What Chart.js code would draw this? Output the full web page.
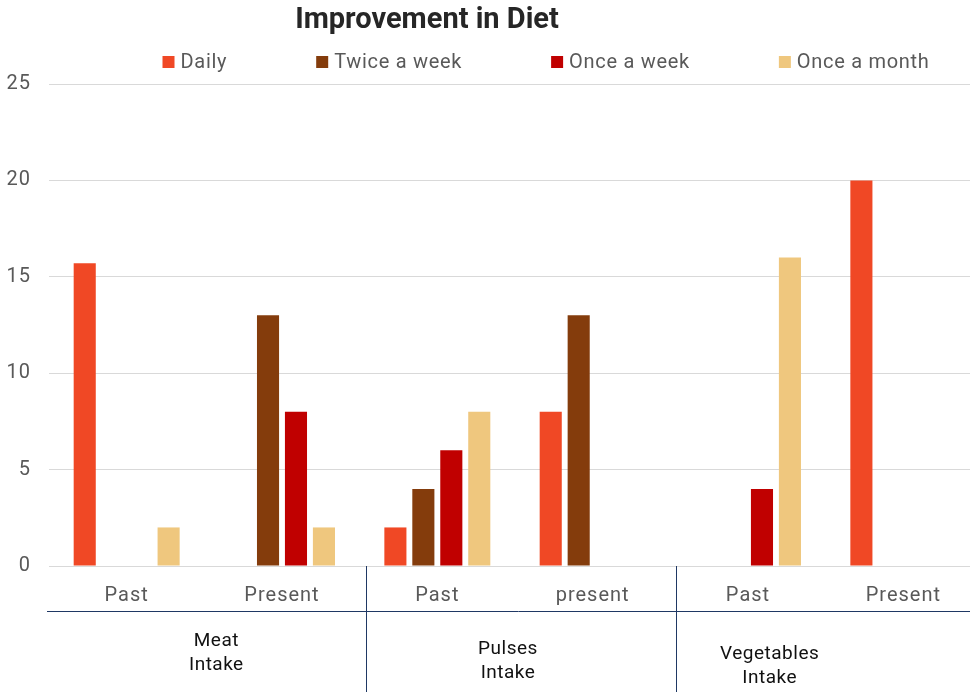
<!DOCTYPE html>
<html>
<head>
<meta charset="utf-8">
<title>Improvement in Diet</title>
<script src="https://cdn.jsdelivr.net/npm/chart.js@4.4.1/dist/chart.umd.min.js"></script>
<style>
    html, body { margin: 0; padding: 0; background: #fff; }
    #wrap { width: 970px; height: 695px; overflow: hidden; position: relative; }
    #inner { width: 990px; height: 695px; }
</style>
</head>
<body>
<div id="wrap"><div id="inner"><canvas id="dietChart"></canvas></div></div>
<script>
// Chart data
const categories = ['Past', 'Present', 'Past', 'present', 'Past', 'Present'];
const groups = [['Meat', 'Intake'], ['Pulses', 'Intake'], ['Vegetables', 'Intake']];
const seriesNames = ['Daily', 'Twice a week', 'Once a week', 'Once a month'];
const daily = [15.7, 0, 2, 8, 0, 20];
const twiceWeek = [0, 13, 4, 13, 0, 0];
const onceWeek = [0, 8, 6, 0, 4, 0];
const onceMonth = [2, 2, 8, 0, 16, 0];
const yTicks = [0, 5, 10, 15, 20, 25];

const colors = ['#f04825', '#843c0c', '#c00000', '#efc77e'];
const textGray = '#595959';
const lineBlue = '#1f3864';

// Slightly wider letter spacing for the axis labels
const spacingPlugin = {
    id: 'spacing',
    beforeDraw(chart) {
        chart.ctx.letterSpacing = '1px';
    }
};

// Title and legend drawn on the canvas at fixed spots above the plot
const headerPlugin = {
    id: 'header',
    afterDraw(chart) {
        const ctx = chart.ctx;
        ctx.save();
        ctx.letterSpacing = '0px';
        ctx.fillStyle = '#262626';
        ctx.font = 'bold 29px Roboto';
        ctx.textAlign = 'center';
        ctx.textBaseline = 'middle';
        ctx.fillText('Improvement in Diet', 427, 21);

        ctx.letterSpacing = '0.7px';
        ctx.font = '20px Roboto';
        ctx.textAlign = 'left';
        const gap = 89;
        const widths = chart.data.datasets.map(ds => 18 + ctx.measureText(ds.label).width);
        const total = widths.reduce((a, b) => a + b, 0) + gap * (widths.length - 1);
        let x = 546 - total / 2;
        chart.data.datasets.forEach((ds, i) => {
            ctx.fillStyle = ds.backgroundColor;
            ctx.fillRect(x, 56, 12, 12);
            ctx.fillStyle = textGray;
            ctx.fillText(ds.label, x + 18, 63);
            x += widths[i] + gap;
        });
        ctx.restore();
    }
};

// Second row of x labels: group names with separator lines
const groupLabelOffsets = [12, -7, -56];
const groupLabelTops = [641, 649, 654];
const groupAxisPlugin = {
    id: 'groupAxis',
    afterDraw(chart) {
        const ctx = chart.ctx;
        const xs = chart.scales.x;
        const area = chart.chartArea;
        ctx.save();
        ctx.strokeStyle = lineBlue;
        ctx.lineWidth = 1;
        ctx.beginPath();
        ctx.moveTo(47, 611.5);
        ctx.lineTo(chart.width, 611.5);
        for (let g = 1; g < groups.length; g++) {
            const bx = Math.round((xs.getPixelForValue(2 * g - 1) + xs.getPixelForValue(2 * g)) / 2 + 6) + 0.5;
            ctx.moveTo(bx, area.bottom);
            ctx.lineTo(bx, 692);
        }
        ctx.stroke();

        ctx.letterSpacing = '0.5px';
        ctx.fillStyle = '#111';
        ctx.font = '19px Roboto';
        ctx.textAlign = 'center';
        ctx.textBaseline = 'middle';
        groups.forEach((lines, g) => {
            const cx = (xs.getPixelForValue(2 * g) + xs.getPixelForValue(2 * g + 1)) / 2 + groupLabelOffsets[g];
            lines.forEach((t, j) => ctx.fillText(t, cx, groupLabelTops[g] + j * 24));
        });
        ctx.restore();
    }
};

const seriesValues = [daily, twiceWeek, onceWeek, onceMonth];
const ctx = document.getElementById('dietChart').getContext('2d');
const dietChart = new Chart(ctx, {
    type: 'bar',
    data: {
        labels: categories,
        datasets: seriesNames.map((name, i) => ({
            label: name,
            data: seriesValues[i],
            backgroundColor: colors[i],
            borderWidth: 0,
            barPercentage: 0.79,
            categoryPercentage: 0.72
        }))
    },
    options: {
        responsive: true,
        maintainAspectRatio: false,
        animation: false,
        layout: { padding: { top: 84, right: 9, left: 0, bottom: 0 } },
        plugins: {
            legend: { display: false },
            title: { display: false },
            tooltip: { enabled: false }
        },
        scales: {
            x: {
                grid: { display: false, drawTicks: false },
                border: { display: false },
                ticks: {
                    color: textGray,
                    font: { family: 'Roboto', size: 20 },
                    padding: 18,
                    maxRotation: 0
                },
                afterFit(scale) { scale.height = 129; }
            },
            y: {
                min: 0,
                max: 25,
                afterBuildTicks(scale) { scale.ticks = yTicks.map(v => ({ value: v })); },
                grid: { color: '#d9d9d9', lineWidth: 1, drawTicks: false },
                border: { display: false },
                ticks: {
                    color: textGray,
                    font: { family: 'Roboto', size: 20 },
                    padding: 18
                },
                afterFit(scale) { scale.width = 49; }
            }
        }
    },
    plugins: [spacingPlugin, headerPlugin, groupAxisPlugin]
});
</script>
</body>
</html>
